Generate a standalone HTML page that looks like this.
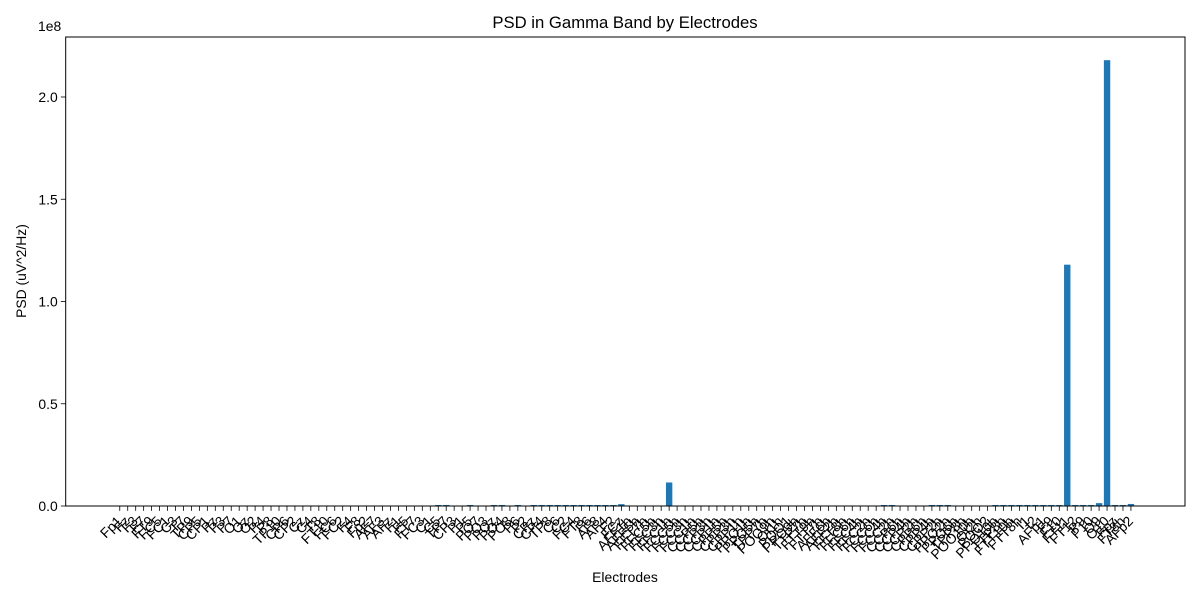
<!DOCTYPE html>
<html><head><meta charset="utf-8"><style>
body{margin:0;background:#fff}
svg{display:block;font-family:"Liberation Sans","DejaVu Sans",sans-serif}
</style></head><body>
<svg id="c" width="1200" height="600">
<text x="625" y="28" text-anchor="middle" font-size="16.7">PSD in Gamma Band by Electrodes</text>
<text x="625" y="582" text-anchor="middle" font-size="13.9">Electrodes</text>
<text transform="translate(26,271) rotate(-90)" text-anchor="middle" font-size="13.9">PSD (uV^2/Hz)</text>
<text x="38" y="31" font-size="13.9">1e8</text>
<g id="plot"></g>
</svg>
<script>
const labels=["Fp1","Fz","F3","F7","FT9","FC5","FC1","C3","T7","TP9","CP5","CP1","Pz","P3","P7","O1","Oz","O2","P4","P8","TP10","CP6","CP2","Cz","C4","T8","FT10","FC6","FC2","F4","F8","Fp2","AF7","AF3","AFz","F1","F5","FT7","FC3","C1","C5","TP7","CP3","P1","P5","PO7","PO3","POz","PO4","PO8","P6","P2","CPz","CP4","TP8","C6","C2","FC4","FT8","F6","AF8","AF4","F2","FCz","AFF1h","AFF5h","FFT7h","FFC5h","FFC3h","FFC1h","FCC5h","FCC3h","FCC1h","CCP5h","CCP3h","CCP1h","CPP5h","CPP3h","CPP1h","PPO1h","PPO5h","TPP7h","POO9h","OI1h","POO1","PPO9h","TTP7h","FTT9h","FTT7h","AFF6h","AFF2h","FFT8h","FFC6h","FFC4h","FFC2h","FCC6h","FCC4h","FCC2h","CCP6h","CCP4h","CCP2h","CPP6h","CPP4h","CPP2h","PPO2h","PPO6h","TPP8h","POO10h","OI2h","POO2","PPO10h","TTP8h","FTT10h","FTT8h","I1","I2","AFp1","F9","F10","FT11","FT12","P9","P10","O9","O10","Fpz","FT8h","AFp2"];
const values=new Array(128).fill(0);
[40,41,44,47,48,50,52,53,54,55,56,57,58,59,60,61,62,96,97,102,103,104,110,111,112,113,114,115,116,117,118,120,121,122,125,126].forEach(i=>values[i]=0.5e6);
values[63]=0.9e6; values[69]=11.5e6; values[119]=118e6; values[123]=1.4e6; values[124]=218e6; values[127]=1.0e6;
const yTicks=[0,0.5e8,1.0e8,1.5e8,2.0e8];
const yTickLabels=["0.0","0.5","1.0","1.5","2.0"];

const NS="http://www.w3.org/2000/svg";
const L=65.7,R=1185,T=37,B=506;
const n=labels.length, span=1.1*(n-0.2), xmin=-0.4-0.05*(n-0.2);
const ppu=(R-L)/span;
const xs=i=>L+(i-xmin)*ppu;
const ys=v=>B-v/1e8*204.5;
const g=document.getElementById('plot');
function mk(t,a){const e=document.createElementNS(NS,t);for(const k in a)e.setAttribute(k,a[k]);g.appendChild(e);return e;}
values.forEach((v,i)=>{
 const r=mk('rect',{x:xs(i)-0.4*ppu,y:ys(v),width:0.8*ppu,height:B-ys(v),fill:'#1f77b4'});
 
 
 const tk=mk('line',{x1:xs(i),x2:xs(i),y1:B,y2:B+4.9,stroke:'#000','stroke-width':0.8});
 
 
 const tx=mk('text',{'font-size':13.9,'text-anchor':'end',transform:`translate(${xs(i)+3},${B+16}) rotate(-45)`});
 tx.textContent=labels[i];
 
 
});
yTicks.forEach((v,i)=>{
 const tk=mk('line',{x1:L-4.9,x2:L,y1:ys(v),y2:ys(v),stroke:'#000','stroke-width':0.8});
 
 
 const tx=mk('text',{x:L-8,y:ys(v)+5,'font-size':13.9,'text-anchor':'end'});
 tx.textContent=yTickLabels[i];
 
 
});
const fr=mk('rect',{x:L,y:T,width:R-L,height:B-T,fill:'none',stroke:'#000','stroke-width':1});


</script>
</body></html>
